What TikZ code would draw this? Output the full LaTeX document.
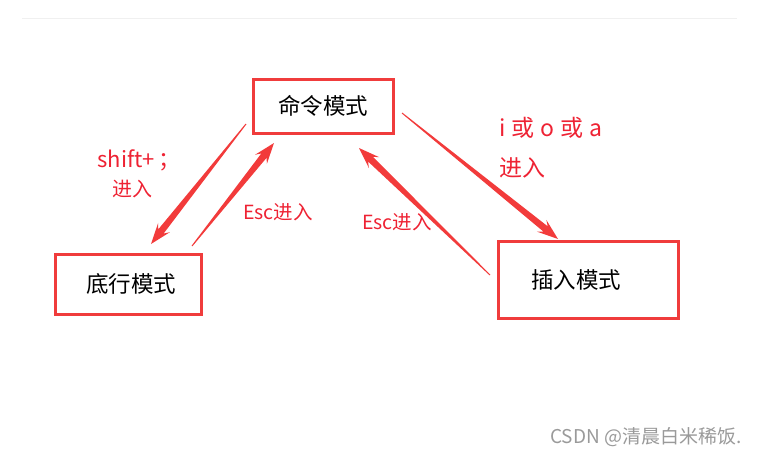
\documentclass[tikz,border=0pt]{standalone}
\usepackage{fontspec}
\newfontfamily\cjk{Noto Sans CJK SC}
\usetikzlibrary{calc}
\definecolor{box-red}{HTML}{F03C3C}
\definecolor{label-red}{HTML}{EE2233}
\definecolor{arrow-red}{HTML}{F23B3B}
\definecolor{mark-gray}{HTML}{9A9A9A}

% tapered arrow: thin at the tail, wide near the head
\newcommand{\taperarrow}[2]{%
  \coordinate (hb) at ($(#2)!21pt!(#1)$);
  \coordinate (hn) at ($(#2)!16pt!(#1)$);
  \fill[arrow-red] ($(#1)!0.5pt!90:(#2)$) -- ($(hn)!3.4pt!90:(#2)$)
    -- ($(hb)!7.5pt!90:(#2)$) -- (#2) -- ($(hb)!7.5pt!-90:(#2)$)
    -- ($(hn)!3.4pt!-90:(#2)$) -- ($(#1)!0.5pt!-90:(#2)$) -- cycle;
}

\begin{document}
\begin{tikzpicture}[
  x=1pt, y=-1pt,
  mode/.style={draw=box-red, line width=3pt, inner sep=0pt,
    font=\cjk\fontsize{22.5}{26}\selectfont},
  elabel/.style={text=label-red, inner sep=0pt, font=\cjk\fontsize{19.5}{22}\selectfont},
  biglabel/.style={elabel, font=\cjk\fontsize{23}{26}\selectfont},
]
  \useasboundingbox (0,0) rectangle (757,458);
  \draw[black!6, line width=1pt] (22,18) -- (737,18);

  % modes
  \node[mode, minimum width=140pt, minimum height=54pt] (cmd) at (323,106) {命令模式};
  \node[mode, minimum width=146pt, minimum height=60pt] (last) at (128,284) {\hspace*{6pt}底行模式};
  \node[mode, minimum width=180pt, minimum height=77pt] (ins) at (588,279.5) {\hspace*{-24pt}插入模式};

  % arrow ends
  \coordinate (cmd-l-out) at (246,124);
  \coordinate (last-in) at (151,244);
  \coordinate (last-out) at (192,246);
  \coordinate (cmd-l-in) at (274,143);
  \coordinate (cmd-r-out) at (402,113);
  \coordinate (ins-in) at (558,239);
  \coordinate (ins-out) at (490,275);
  \coordinate (cmd-r-in) at (359,148);

  \taperarrow{cmd-l-out}{last-in}
  \taperarrow{last-out}{cmd-l-in}
  \taperarrow{cmd-r-out}{ins-in}
  \taperarrow{ins-out}{cmd-r-in}

  % labels
  \node[elabel, font=\cjk\fontsize{22}{24}\selectfont] (shift) at (139,160) {shift+\,；};
  \node[elabel, font=\cjk\fontsize{20}{24}\selectfont] (shift-in) at (132,189) {进入};
  \node[elabel] (esc-l) at (278,212) {Esc进入};
  \node[elabel] (esc-r) at (397,222) {Esc进入};
  \node[biglabel, anchor=west] (ioa) at (499,128) {i\hspace{6pt}或\hspace{6pt}o\hspace{6pt}或\hspace{6pt}a};
  \node[biglabel, anchor=west] (ioa-in) at (499,168) {进入};

  \node[text=mark-gray, anchor=east, font=\cjk\fontsize{19}{22}\selectfont] (mark) at (745,437) {CSDN @清晨白米稀饭.};
\end{tikzpicture}
\end{document}
